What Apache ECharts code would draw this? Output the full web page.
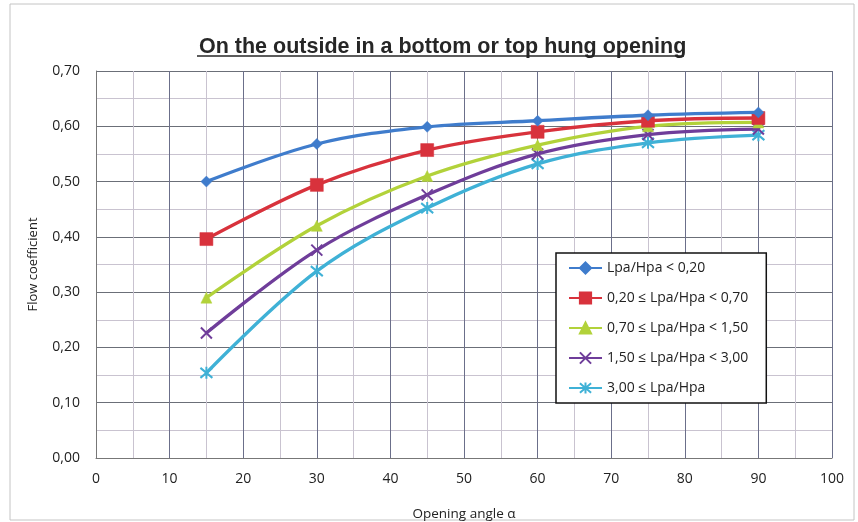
<!DOCTYPE html>
<html><head><meta charset="utf-8">
<script src="https://cdn.jsdelivr.net/npm/echarts@6/dist/echarts.min.js"></script>
<style>html,body{margin:0;padding:0;background:#fff}#c{width:858px;height:522px}</style>
</head><body><div id="c"></div>
<script>
const angles = [15, 30, 45, 60, 75, 90];
const seriesNames = ['Lpa/Hpa < 0,20', '0,20 \u2264 Lpa/Hpa < 0,70', '0,70 \u2264 Lpa/Hpa < 1,50', '1,50 \u2264 Lpa/Hpa < 3,00', '3,00 \u2264 Lpa/Hpa'];
const s1 = [0.500, 0.568, 0.599, 0.610, 0.620, 0.625];
const s2 = [0.396, 0.494, 0.557, 0.590, 0.610, 0.615];
const s3 = [0.290, 0.420, 0.510, 0.566, 0.600, 0.607];
const s4 = [0.226, 0.376, 0.476, 0.550, 0.585, 0.595];
const s5 = [0.154, 0.338, 0.452, 0.532, 0.570, 0.584];
const colors = ['#3f7ccc', '#d8323c', '#b2d23a', '#6f3d9a', '#3fb1d6'];
const symbols = ['diamond', 'rect', 'triangle', 'path://M0,0L10,10M10,0L0,10', 'path://M0,0L10,10M10,0L0,10M5,-1L5,11'];
const sizes = [11, 13, 11, 11, 12];
const allData = [s1, s2, s3, s4, s5];

const chart = echarts.init(document.getElementById('c'));
const fontMain = 'Liberation Sans, Arial, sans-serif';
const fontAxis = 'Open Sans, Liberation Sans, sans-serif';
chart.setOption({
  backgroundColor: '#fff',
  animation: false,
  color: colors,
  title: {
    text: 'On the outside in a bottom or top hung opening',
    left: 194, top: 31,
    textStyle: {fontFamily: fontMain, fontSize: 21.5, fontWeight: 'bold', color: '#262626'}
  },
  graphic: [
    {type: 'line', shape: {x1: 197, y1: 56, x2: 684, y2: 56}, style: {stroke: '#262626', lineWidth: 1.5}},
    {type: 'rect', shape: {x: 10, y: 4, width: 844, height: 516}, style: {fill: 'none', stroke: '#c4c4c4', lineWidth: 1}, z: -1}
  ],
  grid: {left: 96, right: 26, top: 71, bottom: 64, outerBoundsMode: 'none', containLabel: false},
  legend: {
    orient: 'vertical', left: 556, top: 253,
    backgroundColor: '#fff', borderColor: '#111', borderWidth: 1.5,
    padding: [8, 18, 8, 12], itemGap: 16, itemWidth: 33, itemHeight: 14,
    textStyle: {fontFamily: fontAxis, fontSize: 14, color: '#222'},
    data: seriesNames
  },
  xAxis: {
    type: 'value', min: 0, max: 100, interval: 10,
    name: 'Opening angle \u03b1', nameLocation: 'middle', nameGap: 49,
    nameTextStyle: {fontFamily: fontAxis, fontSize: 13.5, color: '#222'},
    axisLine: {show: true, lineStyle: {color: '#777'}},
    axisTick: {show: false},
    axisLabel: {fontFamily: fontAxis, fontSize: 14, color: '#222', margin: 14},
    splitLine: {show: true, lineStyle: {color: '#6b6f8a', width: 1}},
    minorTick: {show: false, splitNumber: 2},
    minorSplitLine: {show: true, lineStyle: {color: '#c9c3d0', width: 1}}
  },
  yAxis: {
    type: 'value', min: 0, max: 0.7, interval: 0.1,
    name: 'Flow coefficient', nameLocation: 'middle', nameGap: 56,
    nameTextStyle: {fontFamily: fontAxis, fontSize: 13, color: '#222'},
    axisLine: {show: true, lineStyle: {color: '#777'}},
    axisTick: {show: false},
    axisLabel: {fontFamily: fontAxis, fontSize: 14, color: '#222', margin: 16,
      formatter: v => v.toFixed(2).replace('.', ',')},
    splitLine: {show: true, lineStyle: {color: '#6b6f78', width: 1}},
    minorTick: {show: false, splitNumber: 2},
    minorSplitLine: {show: true, lineStyle: {color: '#c9c3d0', width: 1}}
  },
  series: allData.map((d, i) => ({
    name: seriesNames[i], type: 'line', smooth: 0.35,
    data: angles.map((a, j) => [a, d[j]]),
    symbol: symbols[i], symbolSize: sizes[i], showSymbol: true,
    lineStyle: {width: 3.3, color: colors[i]},
    itemStyle: {color: colors[i], borderColor: colors[i], borderWidth: i >= 3 ? 2 : 0.5},
    z: 10 - i
  }))
});
</script></body></html>
